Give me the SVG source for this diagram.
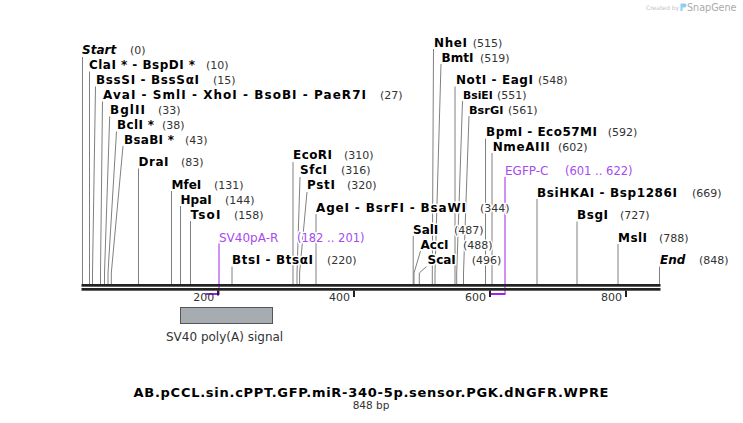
<svg xmlns="http://www.w3.org/2000/svg" width="743" height="423" viewBox="0 0 743 423" xml:space="preserve">
<style>
.ln{stroke:#808080;stroke-width:1;fill:none}
.pl{stroke:#a020f0;stroke-width:1;fill:none}
.pb{stroke:#a020f0;stroke-width:2;fill:none}
.nm{font-family:"DejaVu Sans",Verdana,sans-serif;font-weight:bold;font-size:12px;fill:#000}
.it{font-style:italic}
.num{font-family:"DejaVu Sans",Verdana,sans-serif;font-size:11px;fill:#333}
.fn{font-family:"DejaVu Sans",Verdana,sans-serif;font-size:12px;fill:#a64bf0}
.fr{font-family:"DejaVu Sans",Verdana,sans-serif;font-size:11.5px;fill:#a64bf0}
.h{paint-order:stroke;stroke:#fff;stroke-width:3;stroke-linejoin:round}
.bb{fill:#222}
.tk{fill:#222}
.tl{font-family:"DejaVu Sans",Verdana,sans-serif;font-size:11px;fill:#333;text-anchor:end}
</style>
<g id="watermark">
<text x="646" y="10" style="font-family:'DejaVu Sans',sans-serif;font-size:6px;fill:#c4c4c4">Created by</text>
<path d="M680.5,3.5 h4 a2,2 0 0 1 0,4 h-2 v3.5 h-2 z" fill="#8ccdf3"/>
<text x="687" y="10.7" style="font-family:'DejaVu Sans',sans-serif;font-size:9.6px;fill:#aaa">SnapGene</text>
</g>
<g id="connectors">
<path class="ln" d="M82.5,57 V284"/>
<path class="ln" d="M89.5,71.5 V284"/>
<path class="ln" d="M95.5,86.5 L92.5,273 V284"/>
<path class="ln" d="M102.5,101.5 L100.5,273 V284"/>
<path class="ln" d="M109.7,116.5 L104.5,273 V284"/>
<path class="ln" d="M116.5,131.5 L108,273 V284"/>
<path class="ln" d="M123,146 L111.3,273 V284"/>
<path class="ln" d="M138.5,168.5 V284"/>
<path class="ln" d="M171.5,191 V284"/>
<path class="ln" d="M180.5,206 V284"/>
<path class="ln" d="M190.5,221 V284"/>
<path class="ln" d="M232,266.5 V284"/>
<path class="ln" d="M293,162 V284"/>
<path class="ln" d="M300,177 L297,273 V284"/>
<path class="ln" d="M307,192 L299.6,273 V284"/>
<path class="ln" d="M316,214 V284"/>
<path class="ln" d="M413.2,236 V284"/>
<path class="ln" d="M420.5,251 L414,273 V284"/>
<path class="ln" d="M426.5,266.5 L419.3,273 V284"/>
<path class="ln" d="M433.5,49 L432.3,273 V284"/>
<path class="ln" d="M441,64 L435,273 V284"/>
<path class="ln" d="M455,86.5 V284"/>
<path class="ln" d="M462.5,101 L456.7,273 V284"/>
<path class="ln" d="M469,116 L463.5,273 V284"/>
<path class="ln" d="M485.5,138.5 V284"/>
<path class="ln" d="M492,153 V284"/>
<path class="ln" d="M537,199 V284"/>
<path class="ln" d="M577,221.5 V284"/>
<path class="ln" d="M618,244 V284"/>
<path class="ln" d="M659.5,266.5 V284"/>
<path class="pl" d="M219,243.5 V294"/>
<path class="pb" d="M205.5,294 H219.5"/>
<path class="pl" d="M505,177 V294"/>
<path class="pb" d="M490.5,294 H505.5"/>
</g>
<g id="backbone">
<rect class="bb" x="81.5" y="284" width="579" height="2.7"/>
<rect class="bb" x="81.5" y="288" width="579" height="2.7"/>
<rect class="tk" x="217" y="290.5" width="2" height="5"/>
<rect class="tk" x="353" y="290.5" width="2" height="6.5"/>
<rect class="tk" x="489" y="290.5" width="2" height="6.5"/>
<rect class="tk" x="625" y="290.5" width="2" height="6.5"/>
<text class="tl" x="214.3" y="301">200</text>
<text class="tl" x="350" y="301">400</text>
<text class="tl" x="486" y="301">600</text>
<text class="tl" x="622" y="301">800</text>
</g>
<g id="e-start"><text class="nm it h" x="82" y="54">Start</text><text class="num h" x="130" y="54">(0)</text></g>
<g id="e-clai"><text class="nm h" x="89" y="69" textLength="106">ClaI *  - BspDI *</text><text class="num h" x="206" y="69">(10)</text></g>
<g id="e-bsssi"><text class="nm h" x="96" y="84" textLength="103">BssSI  - BssSαI</text><text class="num h" x="213" y="84">(15)</text></g>
<g id="e-avai"><text class="nm h" x="103" y="99" textLength="263">AvaI  - SmlI  - XhoI  - BsoBI  - PaeR7I</text><text class="num h" x="380" y="99">(27)</text></g>
<g id="e-bglii"><text class="nm h" x="110" y="114" textLength="35">BglII</text><text class="num h" x="158" y="114">(33)</text></g>
<g id="e-bcli"><text class="nm h" x="117" y="129" textLength="37">BclI *</text><text class="num h" x="162" y="129">(38)</text></g>
<g id="e-bsabi"><text class="nm h" x="124" y="143.5" textLength="50">BsaBI *</text><text class="num h" x="185" y="143.5">(43)</text></g>
<g id="e-drai"><text class="nm h" x="138.5" y="166" textLength="30">DraI</text><text class="num h" x="181" y="166">(83)</text></g>
<g id="e-mfei"><text class="nm h" x="171.5" y="188.5">MfeI</text><text class="num h" x="214" y="188.5">(131)</text></g>
<g id="e-hpai"><text class="nm h" x="180.5" y="203.5">HpaI</text><text class="num h" x="225" y="203.5">(144)</text></g>
<g id="e-tsoi"><text class="nm h" x="190.5" y="218.5" textLength="30">TsoI</text><text class="num h" x="234" y="218.5">(158)</text></g>
<g id="f-sv40pa-r"><text class="fn h" x="219" y="241.5">SV40pA-R</text><text class="fr h" x="297" y="241.5">(182 .. 201)</text></g>
<g id="e-btsi"><text class="nm h" x="232" y="264" textLength="81">BtsI  - BtsαI</text><text class="num h" x="327" y="264">(220)</text></g>
<g id="e-ecori"><text class="nm h" x="293" y="159.3" textLength="39">EcoRI</text><text class="num h" x="344" y="159.3">(310)</text></g>
<g id="e-sfci"><text class="nm h" x="300" y="174.3" textLength="27">SfcI</text><text class="num h" x="341" y="174.3">(316)</text></g>
<g id="e-psti"><text class="nm h" x="307" y="189.3" textLength="28">PstI</text><text class="num h" x="347" y="189.3">(320)</text></g>
<g id="e-agei"><text class="nm h" x="316" y="211.5" textLength="150">AgeI  - BsrFI  - BsaWI</text><text class="num h" x="480" y="211.5">(344)</text></g>
<g id="e-sali"><text class="nm h" x="413" y="233.5">SalI</text><text class="num h" x="454" y="233.5">(487)</text></g>
<g id="e-acci"><text class="nm h" x="420.5" y="248.5">AccI</text><text class="num h" x="463" y="248.5">(488)</text></g>
<g id="e-scai"><text class="nm h" x="427.5" y="264">ScaI</text><text class="num h" x="471.7" y="264">(496)</text></g>
<g id="e-nhei"><text class="nm h" x="434" y="46.7" textLength="33">NheI</text><text class="num h" x="472.7" y="46.7">(515)</text></g>
<g id="e-bmti"><text class="nm h" x="441.5" y="61.5">BmtI</text><text class="num h" x="480" y="61.5">(519)</text></g>
<g id="e-noti"><text class="nm h" x="456" y="84" textLength="77">NotI  - EagI</text><text class="num h" x="538" y="84">(548)</text></g>
<g id="e-bsiei"><text class="nm h" x="463" y="98.5" style="font-size:10.8px">BsiEI</text><text class="num h" x="497" y="98.5">(551)</text></g>
<g id="e-bsrgi"><text class="nm h" x="469" y="113.5" style="font-size:11.3px">BsrGI</text><text class="num h" x="508" y="113.5">(561)</text></g>
<g id="e-bpmi"><text class="nm h" x="486" y="136" textLength="111">BpmI  - Eco57MI</text><text class="num h" x="607.7" y="136">(592)</text></g>
<g id="e-nmeaiii"><text class="nm h" x="492.7" y="150.5" textLength="57">NmeAIII</text><text class="num h" x="558" y="150.5">(602)</text></g>
<g id="f-egfp-c"><text class="fn h" x="505" y="175">EGFP-C</text><text class="fr h" x="565" y="175">(601 .. 622)</text></g>
<g id="e-bsihkai"><text class="nm h" x="537" y="196.7" textLength="140">BsiHKAI  - Bsp1286I</text><text class="num h" x="692" y="196.7">(669)</text></g>
<g id="e-bsgi"><text class="nm h" x="577" y="219" textLength="31">BsgI</text><text class="num h" x="620" y="219">(727)</text></g>
<g id="e-msli"><text class="nm h" x="618" y="241.7" textLength="29">MslI</text><text class="num h" x="659" y="241.7">(788)</text></g>
<g id="e-end"><text class="nm it h" x="660" y="264">End</text><text class="num h" x="699" y="264">(848)</text></g>
<g id="f-sv40-polya">
<rect x="180.5" y="307.5" width="92" height="16" fill="#a7acb2" stroke="#555" stroke-width="1"/>
<text x="166" y="341" style="font-family:'DejaVu Sans',Verdana,sans-serif;font-size:12px;fill:#333">SV40 poly(A) signal</text>
</g>
<g id="title">
<text x="371" y="397" text-anchor="middle" textLength="475" style="font-family:'DejaVu Sans',Verdana,sans-serif;font-weight:bold;font-size:13px;fill:#000">AB.pCCL.sin.cPPT.GFP.miR-340-5p.sensor.PGK.dNGFR.WPRE</text>
<text x="371" y="409" text-anchor="middle" style="font-family:'DejaVu Sans',Verdana,sans-serif;font-size:10.5px;fill:#333">848 bp</text>
</g>
</svg>
